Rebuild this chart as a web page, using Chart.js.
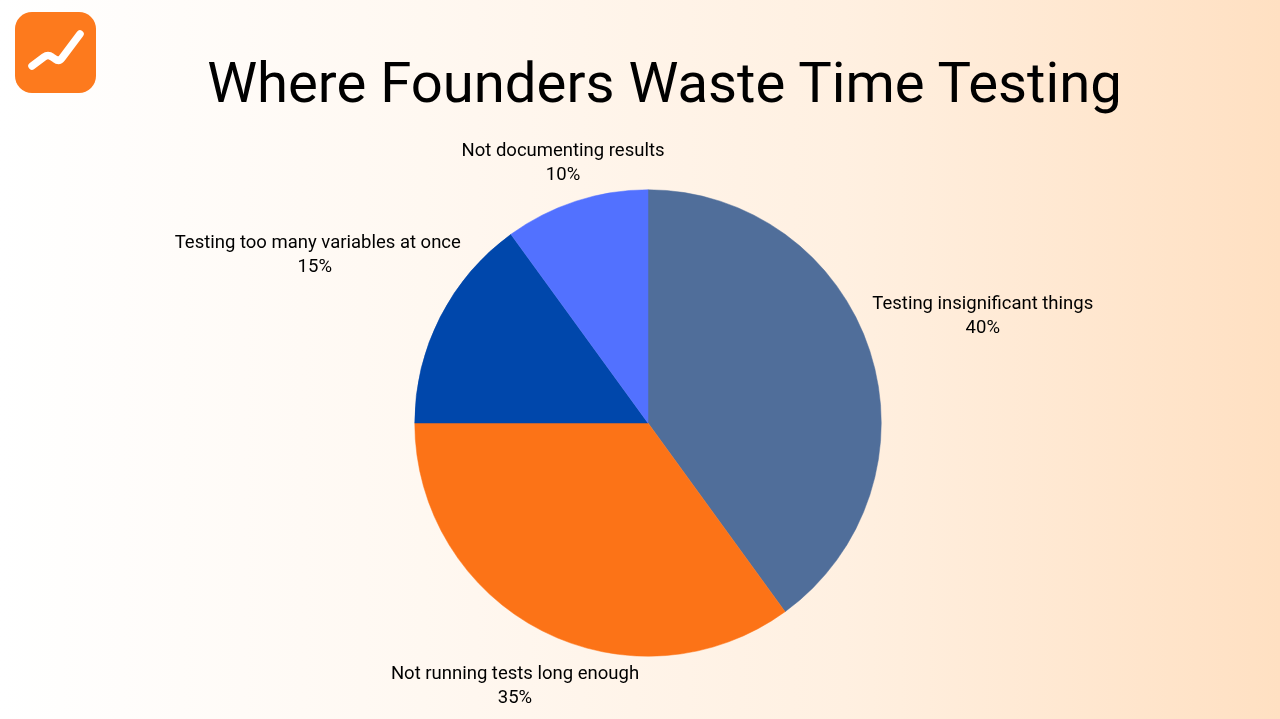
<!DOCTYPE html>
<html>
<head>
<meta charset="utf-8">
<title>Where Founders Waste Time Testing</title>
<script src="https://cdn.jsdelivr.net/npm/chart.js@4"></script>
<style>
    html, body { margin: 0; padding: 0; width: 1280px; height: 719px; overflow: hidden; }
    body { position: relative; background: linear-gradient(90deg, #ffffff 0%, #fff8f1 33%, #fff0e1 66%, #ffe0c2 100%); font-family: Roboto, sans-serif; }
    #logo { position: absolute; left: 15px; top: 12px; filter: blur(0.5px); }
    #title { position: absolute; left: 0; top: 46px; width: 1329px; margin: 0; text-align: center; font: 400 56.25px/74px Roboto, sans-serif; color: #000; }
    #chartWrap { position: absolute; left: 0; top: 0; width: 1280px; height: 719px; }
</style>
</head>
<body>
<svg id="logo" width="81" height="81" viewBox="0 0 81 81">
    <rect width="81" height="81" rx="17" fill="#fd7a1d"/>
    <path d="M17,54 L29,45 Q33,42 37,45 L40,47 Q44,50 47,46 L65,22" fill="none" stroke="#fff" stroke-width="7.5" stroke-linecap="round" stroke-linejoin="round"/>
</svg>
<h1 id="title">Where Founders Waste Time Testing</h1>
<div id="chartWrap"><canvas id="pieChart" width="1280" height="719"></canvas></div>
<script>
const categories = ['Testing insignificant things', 'Not running tests long enough', 'Testing too many variables at once', 'Not documenting results'];
const shares = [40, 35, 15, 10];
const sliceColors = ['#506e9a', '#fc7317', '#0047ab', '#5271ff'];
// distance from pie centre to each label's middle
const labelDistance = [352, 293, 374, 275];
// the long name sits a little right of its percent in the original
const nameShift = [0, 0, 3, 0];

// Draws the category + percent label outside each slice
const outsideLabels = {
    id: 'outsideLabels',
    afterDatasetsDraw(chart) {
        const ctx = chart.ctx;
        const arcs = chart.getDatasetMeta(0).data;
        ctx.save();
        ctx.fillStyle = '#000000';
        ctx.font = '18.5px Roboto, sans-serif';
        ctx.textAlign = 'center';
        ctx.textBaseline = 'middle';
        arcs.forEach((arc, i) => {
            const mid = (arc.startAngle + arc.endAngle) / 2;
            const x = arc.x + Math.cos(mid) * labelDistance[i];
            const y = arc.y + Math.sin(mid) * labelDistance[i];
            ctx.fillText(categories[i], x + nameShift[i], y - 10);
            ctx.fillText(shares[i] + '%', x, y + 14);
        });
        ctx.restore();
    }
};

new Chart(document.getElementById('pieChart'), {
    type: 'pie',
    data: {
        labels: categories,
        datasets: [{
            data: shares,
            backgroundColor: sliceColors,
            borderColor: sliceColors,
            borderWidth: 0.5
        }]
    },
    options: {
        responsive: false,
        animation: false,
        layout: {
            padding: { left: 414.5, right: 398.5, top: 189.5, bottom: 62.5 }
        },
        plugins: {
            legend: { display: false },
            tooltip: { enabled: false }
        }
    },
    plugins: [outsideLabels]
});
</script>
</body>
</html>
